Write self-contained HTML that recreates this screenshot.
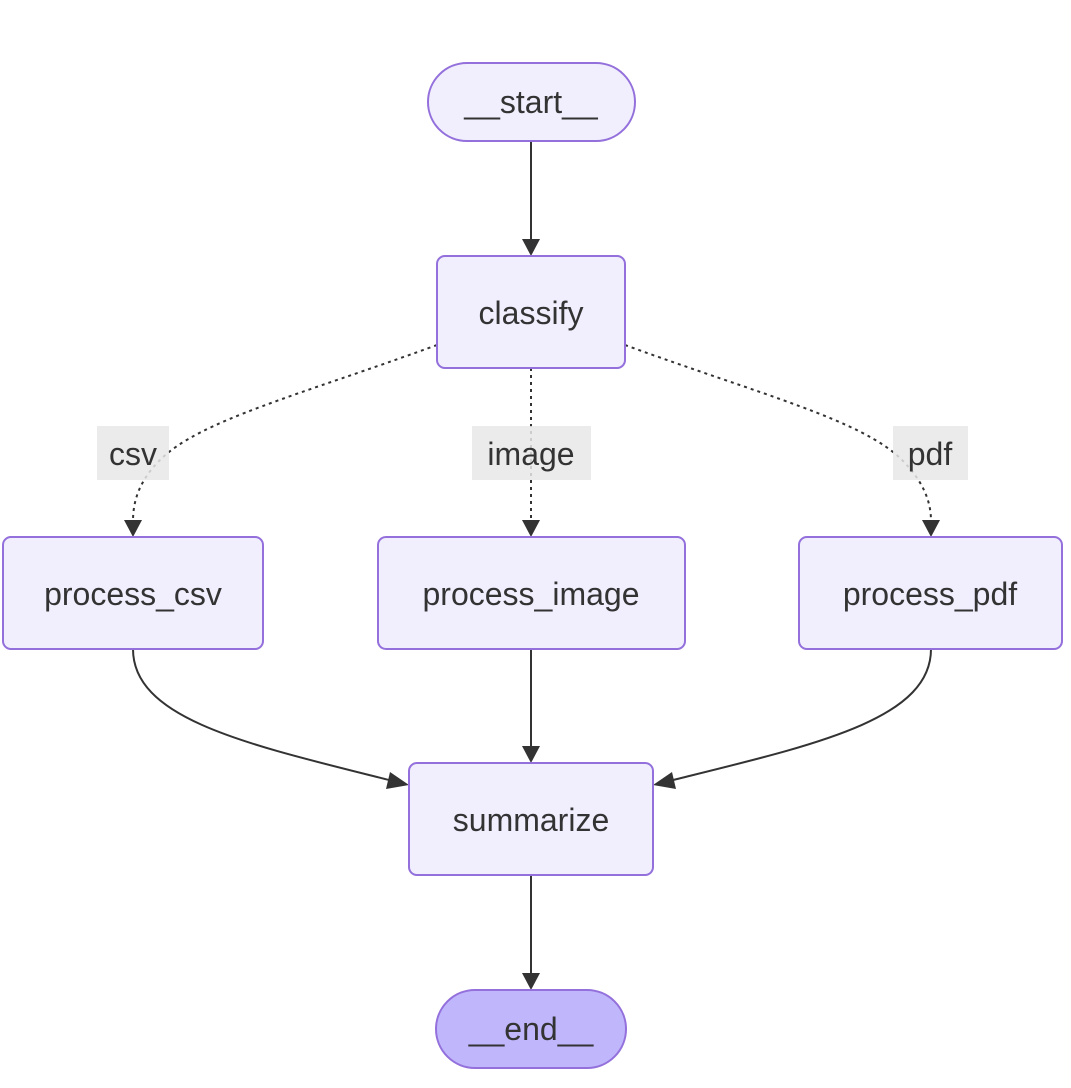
<!DOCTYPE html>
<html><head><meta charset="utf-8"><style>
html,body{margin:0;padding:0;background:#fff;}
svg{display:block;}
text{font-family:"Liberation Sans",sans-serif;font-size:32px;fill:#333;text-anchor:middle;dominant-baseline:central;}
.n{fill:#f1effe;stroke:#9370db;stroke-width:2;}
.e{fill:none;stroke:#333;stroke-width:2;}
.d{fill:none;stroke:#333;stroke-width:2;stroke-dasharray:3 4;}
.l{fill:#e8e8e8;fill-opacity:0.85;}
</style></head><body>
<svg width="1071" height="1088" viewBox="0 0 1071 1088">
<defs><marker id="a" markerWidth="10" markerHeight="10" refX="9" refY="5" orient="auto" markerUnits="userSpaceOnUse" viewBox="0 0 10 10"><path d="M0,0 L10,5 L0,10 z" fill="#333"/></marker></defs>
<g>
<path class="e" d="M531,141 L531,240"/><path d="M522,239 L540,239 L531,256 z" fill="#333"/>
<path class="d" d="M437,345 C300,395 200,420 160,460 C140,480 133,500 133,521"/><path d="M124,520 L142,520 L133,537 z" fill="#333"/>
<path class="d" d="M531,368 L531,521"/><path d="M522,520 L540,520 L531,537 z" fill="#333"/>
<path class="d" d="M625,345 C762,395 862,420 902,460 C922,480 931,500 931,521"/><path d="M922,520 L940,520 L931,537 z" fill="#333"/>
<path class="e" d="M133,649 C133,720 250,745 393,781"/><path d="M390,772 L409,785 L386,789 z" fill="#333"/>
<path class="e" d="M531,649 L531,747"/><path d="M522,746 L540,746 L531,763 z" fill="#333"/>
<path class="e" d="M931,649 C931,720 814,745 669,781"/><path d="M672,772 L653,785 L676,789 z" fill="#333"/>
<path class="e" d="M531,875 L531,974"/><path d="M522,973 L540,973 L531,990 z" fill="#333"/>
</g>
<rect class="l" x="97" y="426" width="72" height="54"/><text x="133" y="454">csv</text>
<rect class="l" x="472" y="426" width="119" height="54"/><text x="531" y="454">image</text>
<rect class="l" x="893" y="426" width="75" height="54"/><text x="930" y="454">pdf</text>
<rect class="n" x="428" y="63" width="207" height="78" rx="39"/><text x="531" y="102">__start__</text>
<rect class="n" x="437" y="256" width="188" height="112" rx="8"/><text x="531" y="313">classify</text>
<rect class="n" x="3" y="537" width="260" height="112" rx="8"/><text x="133" y="594">process_csv</text>
<rect class="n" x="378" y="537" width="307" height="112" rx="8"/><text x="531" y="594">process_image</text>
<rect class="n" x="799" y="537" width="263" height="112" rx="8"/><text x="930" y="594">process_pdf</text>
<rect class="n" x="409" y="763" width="244" height="112" rx="8"/><text x="531" y="820">summarize</text>
<rect x="436" y="990" width="190" height="78" rx="39" fill="#bfb6fc" stroke="#9370db" stroke-width="2"/><text x="531" y="1029">__end__</text>
</svg>
</body></html>
